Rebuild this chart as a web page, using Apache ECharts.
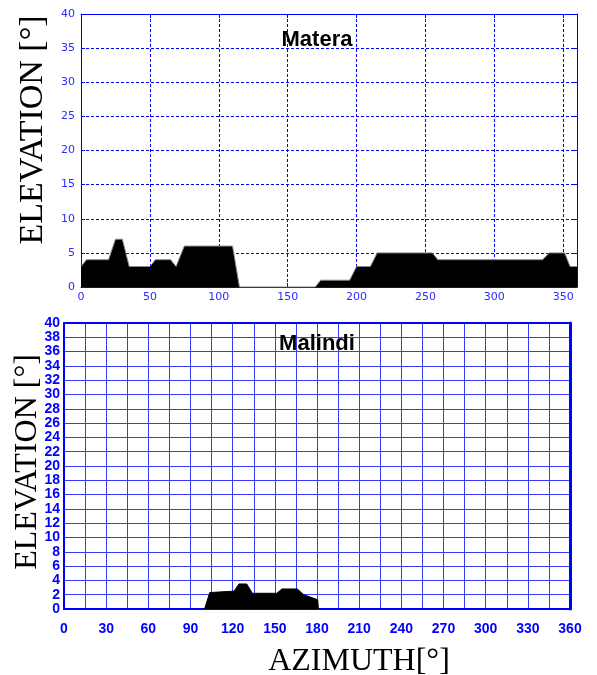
<!DOCTYPE html>
<html>
<head>
<meta charset="utf-8">
<script src="https://cdn.jsdelivr.net/npm/echarts@6/dist/echarts.min.js"></script>
<style>
html,body{margin:0;padding:0;background:#fff;}
#chart{width:597px;height:675px;}
</style>
</head>
<body>
<div id="chart"></div>
<script>
// Matera horizon profile (azimuth deg, elevation deg)
const materaAz = [0, 4, 20, 25, 30, 35, 50, 54, 65, 69, 75, 110, 115, 170, 174, 195, 200, 210, 215, 255, 259, 335, 340, 351, 355, 360];
const materaEl = [3, 4, 4, 7, 7, 3, 3, 4, 4, 3, 6, 6, 0, 0, 1, 1, 3, 3, 5, 5, 4, 4, 5, 5, 3, 3];
// Malindi horizon profile
const malindiAz = [100, 103.7, 121, 124.5, 130, 134, 151.5, 155, 166, 170.5, 180.5, 181];
const malindiEl = [0, 2.3, 2.5, 3.5, 3.5, 2.2, 2.2, 2.8, 2.8, 2.0, 1.3, 0];
const titles = ['Matera', 'Malindi'];
const yTitle = 'ELEVATION [°]';
const xTitle = 'AZIMUTH[°]';

const pairs = (a, b) => a.map((v, i) => [v, b[i]]);
const blue = '#0000ff';
const lblTop = {color: '#2a2aff', fontFamily: 'DejaVu Sans', fontSize: 11};
const lblBot = {color: blue, fontFamily: 'Liberation Sans', fontSize: 14, fontWeight: 'bold'};
const dash = {color: '#0000ff', width: 1, type: [3, 2]};
const gridBlue = {color: '#3a3aff', width: 1};

const chart = echarts.init(document.getElementById('chart'));
chart.setOption({
  animation: false,
  backgroundColor: '#fff',
  grid: [
    {left: 81, top: 14, width: 496, height: 273},
    {left: 64, top: 323, width: 506, height: 286}
  ],
  xAxis: [
    {gridIndex: 0, type: 'value', min: 0, max: 360, interval: 50,
     axisLine: {onZero: false, lineStyle: {color: blue, width: 1}},
     axisTick: {inside: true, length: 4, lineStyle: {color: blue}},
     axisLabel: Object.assign({margin: 5, showMaxLabel: false}, lblTop),
     splitLine: {show: true, lineStyle: dash}},
    {gridIndex: 0, type: 'value', min: 0, max: 360, interval: 50, position: 'top',
     axisLine: {show: true, onZero: false, lineStyle: {color: blue, width: 1}},
     axisTick: {show: true, inside: true, length: 4, lineStyle: {color: blue}},
     axisLabel: {show: false}, splitLine: {show: false}},
    {gridIndex: 1, type: 'value', min: 0, max: 360, interval: 15,
     axisLine: {onZero: false, lineStyle: {color: blue, width: 2}},
     axisTick: {show: false},
     axisLabel: Object.assign({margin: 13, formatter: v => (v % 30 === 0 ? String(v) : '')}, lblBot),
     splitLine: {show: true, lineStyle: gridBlue}},
    {gridIndex: 1, type: 'value', min: 0, max: 360, interval: 15, position: 'top',
     axisLine: {show: true, onZero: false, lineStyle: {color: blue, width: 2}},
     axisTick: {show: false}, axisLabel: {show: false}, splitLine: {show: false}}
  ],
  yAxis: [
    {gridIndex: 0, type: 'value', min: 0, max: 40, interval: 5,
     axisLine: {show: true, onZero: false, lineStyle: {color: blue, width: 1}},
     axisTick: {show: true, inside: true, length: 4, lineStyle: {color: blue}},
     axisLabel: Object.assign({margin: 6}, lblTop),
     splitLine: {show: true, lineStyle: dash}},
    {gridIndex: 0, type: 'value', min: 0, max: 40, interval: 5, position: 'right',
     axisLine: {show: true, onZero: false, lineStyle: {color: blue, width: 1}},
     axisTick: {show: true, inside: true, length: 4, lineStyle: {color: blue}},
     axisLabel: {show: false}, splitLine: {show: false}},
    {gridIndex: 1, type: 'value', min: 0, max: 40, interval: 2,
     axisLine: {show: true, onZero: false, lineStyle: {color: blue, width: 2}},
     axisTick: {show: false},
     axisLabel: Object.assign({margin: 4}, lblBot),
     splitLine: {show: true, lineStyle: gridBlue}},
    {gridIndex: 1, type: 'value', min: 0, max: 40, interval: 2, position: 'right',
     axisLine: {show: true, onZero: false, lineStyle: {color: blue, width: 3}},
     axisTick: {show: false}, axisLabel: {show: false}, splitLine: {show: false}}
  ],
  series: [
    {type: 'line', xAxisIndex: 0, yAxisIndex: 0, data: pairs(materaAz, materaEl),
     symbol: 'none', lineStyle: {color: '#8a8a8a', width: 1},
     areaStyle: {color: '#000', opacity: 1}, z: 3},
    {type: 'line', xAxisIndex: 2, yAxisIndex: 2, data: pairs(malindiAz, malindiEl),
     symbol: 'none', lineStyle: {color: '#000', width: 1},
     areaStyle: {color: '#000', opacity: 1}, z: 3}
  ],
  graphic: [
    {type: 'text', x: 317, y: 51, z: 10, style: {text: titles[0], font: 'bold 22px "Liberation Sans"', fill: '#000', align: 'center', verticalAlign: 'bottom'}},
    {type: 'text', x: 317, y: 355, z: 10, style: {text: titles[1], font: 'bold 22px "Liberation Sans"', fill: '#000', align: 'center', verticalAlign: 'bottom'}},
    {type: 'text', x: 33, y: 130, rotation: Math.PI / 2, style: {text: yTitle, font: '34px "Liberation Serif"', fill: '#000', align: 'center', verticalAlign: 'middle'}},
    {type: 'text', x: 28, y: 462, rotation: Math.PI / 2, style: {text: yTitle, font: '32px "Liberation Serif"', fill: '#000', align: 'center', verticalAlign: 'middle'}},
    {type: 'text', x: 359, y: 662, style: {text: xTitle, font: '32px "Liberation Serif"', fill: '#000', align: 'center', verticalAlign: 'middle'}}
  ]
});
</script>
</body>
</html>
